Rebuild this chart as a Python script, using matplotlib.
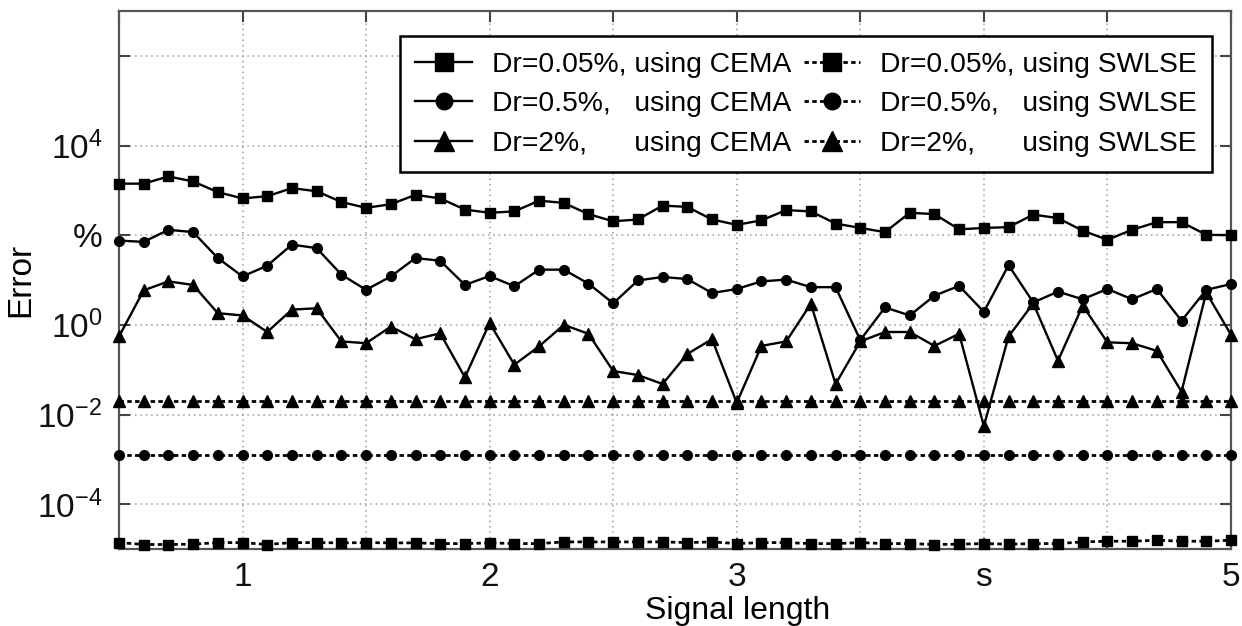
import numpy as np
import matplotlib
matplotlib.use("Agg")
import matplotlib.pyplot as plt

plt.rcParams['font.family'] = ['Liberation Sans', 'DejaVu Sans']
plt.rcParams['mathtext.default'] = 'regular'

# signal length samples
signal_length = [0.5, 0.6, 0.7, 0.8, 0.9, 1.0, 1.1, 1.2, 1.3, 1.4,
                 1.5, 1.6, 1.7, 1.8, 1.9, 2.0, 2.1, 2.2, 2.3, 2.4,
                 2.5, 2.6, 2.7, 2.8, 2.9, 3.0, 3.1, 3.2, 3.3, 3.4,
                 3.5, 3.6, 3.7, 3.8, 3.9, 4.0, 4.1, 4.2, 4.3, 4.4,
                 4.5, 4.6, 4.7, 4.8, 4.9, 5.0]

# errors (%) with CEMA
cema_005 = [1410, 1410, 2040, 1580, 912, 661, 741, 1120, 955, 550,
            407, 490, 794, 661, 372, 316, 339, 589, 525, 295,
            204, 224, 457, 427, 224, 170, 214, 363, 339, 182,
            145, 117, 316, 295, 135, 145, 151, 288, 240, 126,
            79, 132, 195, 195, 102, 100]
cema_05 = [75.9, 70.8, 132, 117, 30.9, 12.0, 20.9, 61.7, 51.3, 13.2,
           6.03, 12.0, 30.9, 26.9, 7.76, 12.3, 7.24, 17.0, 17.0, 8.32,
           3.02, 9.77, 11.7, 10.5, 5.13, 6.31, 9.33, 10.2, 6.92, 6.92,
           0.457, 2.45, 1.62, 4.47, 7.41, 1.95, 21.4, 3.16, 5.50, 3.72,
           6.31, 3.72, 6.31, 1.23, 6.03, 8.13]
cema_2 = [0.550, 5.89, 9.33, 7.76, 1.82, 1.62, 0.692, 2.19, 2.34, 0.427,
          0.389, 0.912, 0.479, 0.646, 0.0676, 1.10, 0.129, 0.331, 1.00, 0.631,
          0.0933, 0.0759, 0.0479, 0.224, 0.479, 0.0182, 0.339, 0.427, 2.95, 0.0479,
          0.427, 0.692, 0.692, 0.339, 0.631, 0.0055, 0.550, 3.02, 0.158, 2.69,
          0.407, 0.389, 0.263, 0.0324, 5.25, 0.603]

# errors (%) with SWLSE
swlse_005 = [1.39e-5, 1.26e-5, 1.26e-5, 1.28e-5, 1.39e-5, 1.39e-5, 1.26e-5, 1.39e-5, 1.39e-5, 1.37e-5,
             1.39e-5, 1.37e-5, 1.37e-5, 1.32e-5, 1.32e-5, 1.37e-5, 1.32e-5, 1.32e-5, 1.44e-5, 1.44e-5,
             1.44e-5, 1.44e-5, 1.44e-5, 1.39e-5, 1.44e-5, 1.32e-5, 1.39e-5, 1.39e-5, 1.32e-5, 1.32e-5,
             1.39e-5, 1.32e-5, 1.32e-5, 1.26e-5, 1.28e-5, 1.32e-5, 1.28e-5, 1.32e-5, 1.32e-5, 1.44e-5,
             1.49e-5, 1.49e-5, 1.57e-5, 1.49e-5, 1.49e-5, 1.57e-5]
swlse_05 = [1.25e-3, 1.25e-3, 1.25e-3, 1.25e-3, 1.25e-3, 1.25e-3, 1.25e-3, 1.25e-3, 1.25e-3, 1.25e-3,
            1.25e-3, 1.25e-3, 1.25e-3, 1.25e-3, 1.25e-3, 1.25e-3, 1.25e-3, 1.25e-3, 1.25e-3, 1.25e-3,
            1.25e-3, 1.25e-3, 1.25e-3, 1.25e-3, 1.25e-3, 1.25e-3, 1.25e-3, 1.25e-3, 1.25e-3, 1.25e-3,
            1.25e-3, 1.25e-3, 1.25e-3, 1.25e-3, 1.25e-3, 1.25e-3, 1.25e-3, 1.25e-3, 1.25e-3, 1.25e-3,
            1.25e-3, 1.25e-3, 1.25e-3, 1.25e-3, 1.25e-3, 1.25e-3]
swlse_2 = [0.0204, 0.0204, 0.0204, 0.0204, 0.0204, 0.0204, 0.0204, 0.0204, 0.0204, 0.0204,
           0.0204, 0.0204, 0.0204, 0.0204, 0.0204, 0.0204, 0.0204, 0.0204, 0.0204, 0.0204,
           0.0204, 0.0204, 0.0204, 0.0204, 0.0204, 0.0204, 0.0204, 0.0204, 0.0204, 0.0204,
           0.0204, 0.0204, 0.0204, 0.0204, 0.0204, 0.0204, 0.0204, 0.0204, 0.0204, 0.0204,
           0.0204, 0.0204, 0.0204, 0.0204, 0.0204, 0.0204]

labels_cema = ["Dr=0.05%, using CEMA", "Dr=0.5%,   using CEMA", "Dr=2%,      using CEMA"]
labels_swlse = ["Dr=0.05%, using SWLSE", "Dr=0.5%,   using SWLSE", "Dr=2%,      using SWLSE"]

x_ticks = [0.5, 1.0, 1.5, 2.0, 2.5, 3.0, 3.5, 4.0, 4.5, 5.0]
x_ticklabels = ["", "1", "", "2", "", "3", "", "s", "", "5"]
y_ticks = [1e-4, 1e-2, 1e0, 1e2, 1e4, 1e6]
y_ticklabels = ["$10^{-4}$", "$10^{-2}$", "$10^{0}$", "%", "$10^{4}$", ""]

fig = plt.figure(figsize=(12.42, 6.26), dpi=100)
ax = fig.add_axes([0.0958, 0.123, 0.8953, 0.8594])

markers = ['s', 'o', '^']
sizes = [7.5, 7, 8.5]
dashdot = (0, (1.6, 1.2))
for y, lab, m, ms in zip([cema_005, cema_05, cema_2], labels_cema, markers, sizes):
    ax.plot(signal_length, y, color='black', lw=1.7, marker=m, ms=ms, label=lab, clip_on=False, zorder=3)
for y, lab, m, ms in zip([swlse_005, swlse_05, swlse_2], labels_swlse, markers, sizes):
    ax.plot(signal_length, y, color='black', lw=2.0, ls=dashdot, marker=m, ms=ms, label=lab, clip_on=False, zorder=3)

ax.set_yscale('log')
ax.set_xlim(0.5, 5.0)
ax.set_ylim(1e-5, 1e7)
ax.set_xticks(x_ticks)
ax.set_xticklabels(x_ticklabels)
ax.set_yticks(y_ticks)
ax.set_yticklabels(y_ticklabels)
ax.minorticks_off()
ax.tick_params(direction='in', length=8, width=1.5, top=True, right=True,
               labelsize=24, color='#444444', labelcolor='#111111')
ax.tick_params(axis='x', pad=9)
ax.tick_params(axis='y', pad=12)
ax.grid(True, color='#999999', ls=(0, (1, 2.5)), lw=1.1)
for sp in ax.spines.values():
    sp.set_color('#555555')
    sp.set_linewidth(1.6)

ax.set_ylabel("Error", fontsize=24)
ax.yaxis.set_label_coords(-0.074, 0.5)
ax.set_xlabel("Signal length", fontsize=23)
ax.xaxis.set_label_coords(0.556, -0.088)

leg = ax.legend(ncol=2, loc='upper left', bbox_to_anchor=(0.2527, 0.9535), borderaxespad=0,
                fontsize=20.3, frameon=True, fancybox=False, edgecolor='black',
                handlelength=2.0, handletextpad=0.7, columnspacing=0.45,
                labelspacing=0.48, borderpad=0.55, markerscale=1.7)
leg.get_frame().set_linewidth(1.8)
leg.get_frame().set_alpha(1)

fig.savefig("out.png", dpi=100)
